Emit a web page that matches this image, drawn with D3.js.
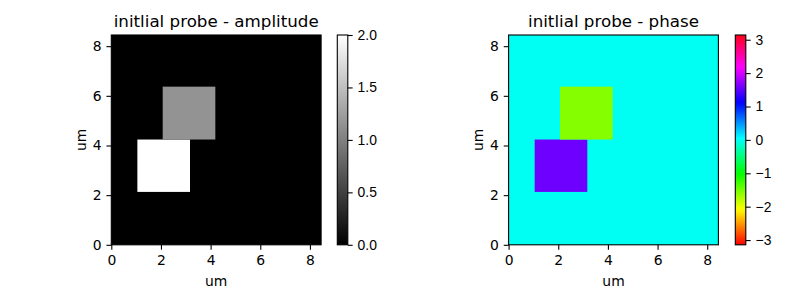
<!DOCTYPE html>
<html>
<head>
<meta charset="utf-8">
<script src="https://cdn.jsdelivr.net/npm/d3@7"></script>
<style>
  body { margin: 0; background: #fff; }
  svg { display: block; font-family: "DejaVu Sans", sans-serif; }
  .tick text { font-size: 13.9px; fill: #000; }
</style>
</head>
<body>
<svg width="800" height="300"></svg>
<script>
// image extent in um
let extent = [0, 8.45]
let background = { amplitude: 0, phase: 0 }

// the two squares in the probe
let squareX = [[1.05, 3.17], [2.07, 4.19]]
let squareY = [[2.13, 4.24], [4.24, 6.37]]
let squareAmplitude = [2.0, 1.15]
let squarePhase = [Math.PI / 2, -Math.PI / 2]

let axisTicks = [0, 2, 4, 6, 8]
let amplitudeTicks = [0, 0.5, 1.0, 1.5, 2.0]
let phaseTicks = [-3, -2, -1, 0, 1, 2, 3]

let titles = ['initlial probe - amplitude', 'initlial probe - phase']

let squares = squareX.map((x, i) => ({
  x: x, y: squareY[i], amplitude: squareAmplitude[i], phase: squarePhase[i]
}))

// matplotlib hsv colormap segments
let hsvRed = [[0, 1], [0.158730, 1], [0.174603, 0.96875], [0.333333, 0.03125], [0.349206, 0], [0.666667, 0], [0.682540, 0.03125], [0.841270, 0.96875], [0.857143, 1], [1, 1]]
let hsvGreen = [[0, 0], [0.158730, 0.9375], [0.174603, 1], [0.507937, 1], [0.666667, 0.0625], [0.682540, 0], [1, 0]]
let hsvBlue = [[0, 0], [0.333333, 0], [0.349206, 0.0625], [0.507937, 1], [0.841270, 1], [0.857143, 0.9375], [1, 0.09375]]
let channel = seg => d3.scaleLinear().domain(seg.map(s => s[0])).range(seg.map(s => s[1])).clamp(true)
let hr = channel(hsvRed), hg = channel(hsvGreen), hb = channel(hsvBlue)
let hsv = t => d3.rgb(hr(t) * 255, hg(t) * 255, hb(t) * 255).formatHex()
let gray = t => d3.rgb(t * 255, t * 255, t * 255).formatHex()

let panels = [
  { left: 111.3, cbLeft: 337.3, key: 'amplitude', domain: [0, 2], cmap: gray, ticks: amplitudeTicks, fmt: d3.format('.1f') },
  { left: 508.6, cbLeft: 735.3, key: 'phase', domain: [-Math.PI, Math.PI], cmap: hsv, ticks: phaseTicks, fmt: d => d3.format('d')(d).replace('-', '\u2212') }
]

let axTop = 35
let size = 209.8
let cbWidth = 10.5
let tickLen = 4.86
let lw = 1.1

let svg = d3.select('svg')
let defs = svg.append('defs')

panels.forEach((p, i) => {
  let x = d3.scaleLinear().domain(extent).range([p.left, p.left + size])
  let y = d3.scaleLinear().domain(extent).range([axTop + size, axTop])
  let norm = d3.scaleLinear().domain(p.domain).range([0, 1]).clamp(true)
  let color = v => p.cmap(norm(v))

  let g = svg.append('g')

  // background
  g.append('rect')
    .attr('x', x(extent[0]))
    .attr('y', y(extent[1]))
    .attr('width', x(extent[1]) - x(extent[0]))
    .attr('height', y(extent[0]) - y(extent[1]))
    .attr('fill', color(background[p.key]))

  g.selectAll('rect.sq')
    .data(squares)
    .enter()
    .append('rect')
    .attr('class', 'sq')
    .attr('x', d => x(d.x[0]))
    .attr('y', d => y(d.y[1]))
    .attr('width', d => x(d.x[1]) - x(d.x[0]))
    .attr('height', d => y(d.y[0]) - y(d.y[1]))
    .attr('fill', d => color(d[p.key]))

  let xAxis = d3.axisBottom(x).tickValues(axisTicks).tickSize(tickLen).tickSizeOuter(0).tickPadding(5.4)
  let yAxis = d3.axisLeft(y).tickValues(axisTicks).tickSize(tickLen).tickSizeOuter(0).tickPadding(4.9)

  let gx = g.append('g')
    .attr('transform', 'translate(' + [0, axTop + size] + ')')
    .call(xAxis)
  let gy = g.append('g')
    .attr('transform', 'translate(' + [p.left, 0] + ')')
    .call(yAxis)
  ;[gx, gy].forEach(a => {
    a.select('.domain').remove()
    a.selectAll('line').attr('stroke-width', lw)
    a.selectAll('text').attr('font-family', '"DejaVu Sans"')
  })

  g.append('rect')
    .attr('x', p.left).attr('y', axTop)
    .attr('width', size).attr('height', size)
    .attr('fill', 'none').attr('stroke', '#000').attr('stroke-width', lw)

  g.append('text')
    .attr('x', p.left + size / 2).attr('y', axTop - 8.5)
    .attr('text-anchor', 'middle')
    .attr('font-size', 16.7)
    .text(titles[i])

  g.append('text')
    .attr('x', p.left + size / 2).attr('y', 286)
    .attr('text-anchor', 'middle')
    .attr('font-size', 13.9)
    .text('um')

  g.append('text')
    .attr('transform', 'translate(' + [p.left - 25.5, axTop + size / 2] + ') rotate(-90)')
    .attr('text-anchor', 'middle')
    .attr('font-size', 13.9)
    .text('um')

  // colorbar
  let gradId = 'grad' + i
  let grad = defs.append('linearGradient')
    .attr('id', gradId)
    .attr('x1', 0).attr('y1', 1).attr('x2', 0).attr('y2', 0)
  grad.selectAll('stop')
    .data(d3.range(0, 1.0001, 1 / 128))
    .enter()
    .append('stop')
    .attr('offset', t => t)
    .attr('stop-color', t => p.cmap(t))

  let cy = d3.scaleLinear().domain(p.domain).range([axTop + size, axTop])
  g.append('rect')
    .attr('x', p.cbLeft).attr('y', axTop)
    .attr('width', cbWidth).attr('height', size)
    .attr('fill', 'url(#' + gradId + ')')
    .attr('stroke', '#000').attr('stroke-width', lw)

  let cAxis = d3.axisRight(cy).tickValues(p.ticks).tickFormat(p.fmt).tickSize(tickLen).tickSizeOuter(0).tickPadding(4.9)
  let gc = g.append('g')
    .attr('transform', 'translate(' + [p.cbLeft + cbWidth, 0] + ')')
    .call(cAxis)
  gc.select('.domain').remove()
  gc.selectAll('line').attr('stroke-width', lw)
})
</script>
</body>
</html>
